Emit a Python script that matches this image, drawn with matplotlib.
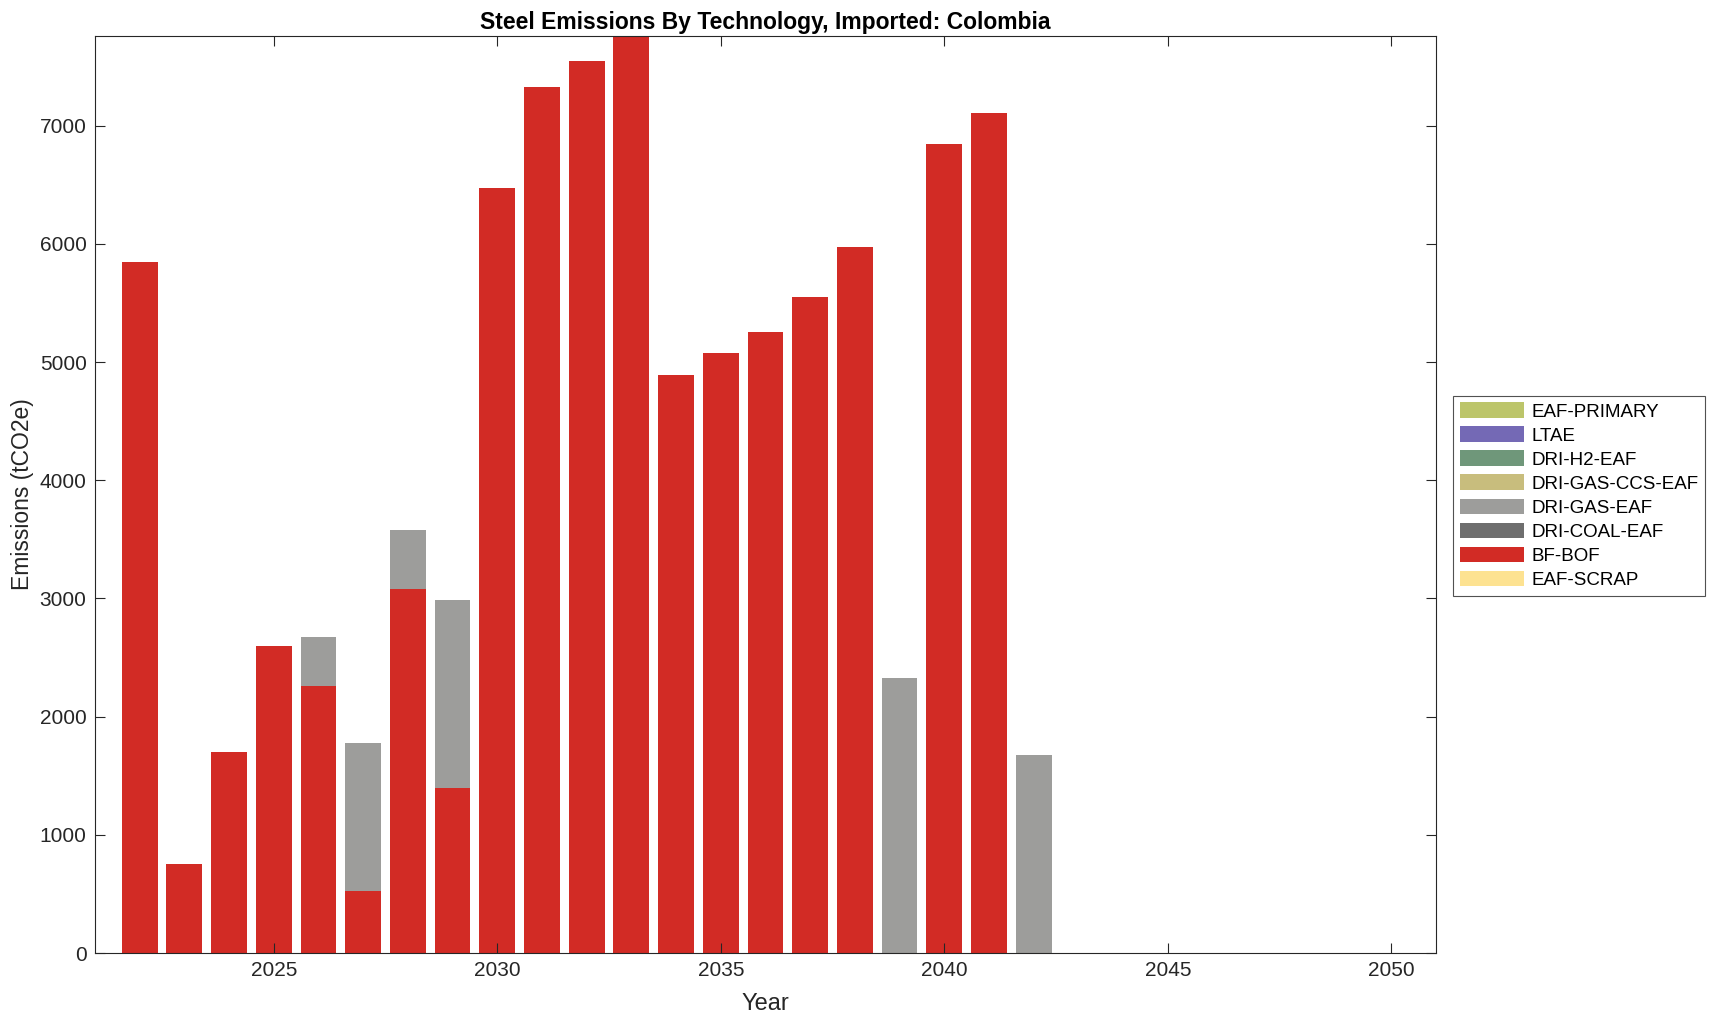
import matplotlib.pyplot as plt
import numpy as np

plt.rcParams['font.family'] = ['Liberation Sans', 'DejaVu Sans']

years = np.arange(2022, 2051)
# emissions (tCO2e) per technology
bf_bof = [5850, 749, 1700, 2598, 2256, 527, 3079, 1396, 6473, 7324, 7546, 7758,
          4892, 5077, 5252, 5548, 5974, 0, 6843, 7111, 0,
          0, 0, 0, 0, 0, 0, 0, 0]
dri_gas_eaf = [0, 0, 0, 0, 416, 1248, 500, 1591, 0, 0, 0, 0,
               0, 0, 0, 0, 0, 2330, 0, 0, 1674,
               0, 0, 0, 0, 0, 0, 0, 0]
zeros = [0] * len(years)
eaf_scrap = zeros
dri_coal_eaf = zeros
dri_gas_ccs_eaf = zeros
dri_h2_eaf = zeros
ltae = zeros
eaf_primary = zeros

# stacking order bottom -> top
series = [
    ('EAF-SCRAP', eaf_scrap, '#fde291'),
    ('BF-BOF', bf_bof, '#d22b25'),
    ('DRI-COAL-EAF', dri_coal_eaf, '#6e6e6e'),
    ('DRI-GAS-EAF', dri_gas_eaf, '#9d9d9b'),
    ('DRI-GAS-CCS-EAF', dri_gas_ccs_eaf, '#c8bd7d'),
    ('DRI-H2-EAF', dri_h2_eaf, '#6f977a'),
    ('LTAE', ltae, '#7469b5'),
    ('EAF-PRIMARY', eaf_primary, '#bcc56a'),
]

fig = plt.figure(figsize=(17.14, 10.21), dpi=100)
ax = fig.add_axes([0.0554, 0.0666, 0.7824, 0.8981])

bottom = np.zeros(len(years))
handles = []
for name, vals, col in series:
    vals = np.array(vals, dtype=float)
    h = ax.bar(years, vals, width=0.8, bottom=bottom, color=col, linewidth=0, label=name)
    handles.append(h)
    bottom += vals

txt = '#262626'
ax.set_xlim(2021, 2051)
ax.set_ylim(0, bottom.max())
ax.set_xticks([2025, 2030, 2035, 2040, 2045, 2050])
ax.set_yticks(np.arange(0, 8000, 1000))
ax.tick_params(direction='in', top=True, right=True, length=7, width=0.8,
               labelsize=15, colors=txt, pad=6)
for s in ax.spines.values():
    s.set_color(txt)
    s.set_linewidth(0.8)

ax.set_xlabel('Year', fontsize=17, color=txt, labelpad=9)
ax.set_ylabel('Emissions (tCO2e)', fontsize=16.5, color=txt, labelpad=4)
ax.set_title('Steel Emissions By Technology, Imported: Colombia', fontsize=16.5,
             fontweight='bold', color='black', pad=5)

leg = fig.legend(handles[::-1], [s[0] for s in series][::-1], loc='upper left',
                 bbox_to_anchor=(0.848, 0.6124), borderaxespad=0, fontsize=13.5,
                 frameon=True, fancybox=False, edgecolor=txt, handlelength=3.4,
                 handleheight=0.9, labelspacing=0.31, borderpad=0.35, handletextpad=0.4)
leg.get_frame().set_linewidth(0.8)
for t in leg.get_texts():
    t.set_color('black')

fig.savefig('out.png', dpi=100)
